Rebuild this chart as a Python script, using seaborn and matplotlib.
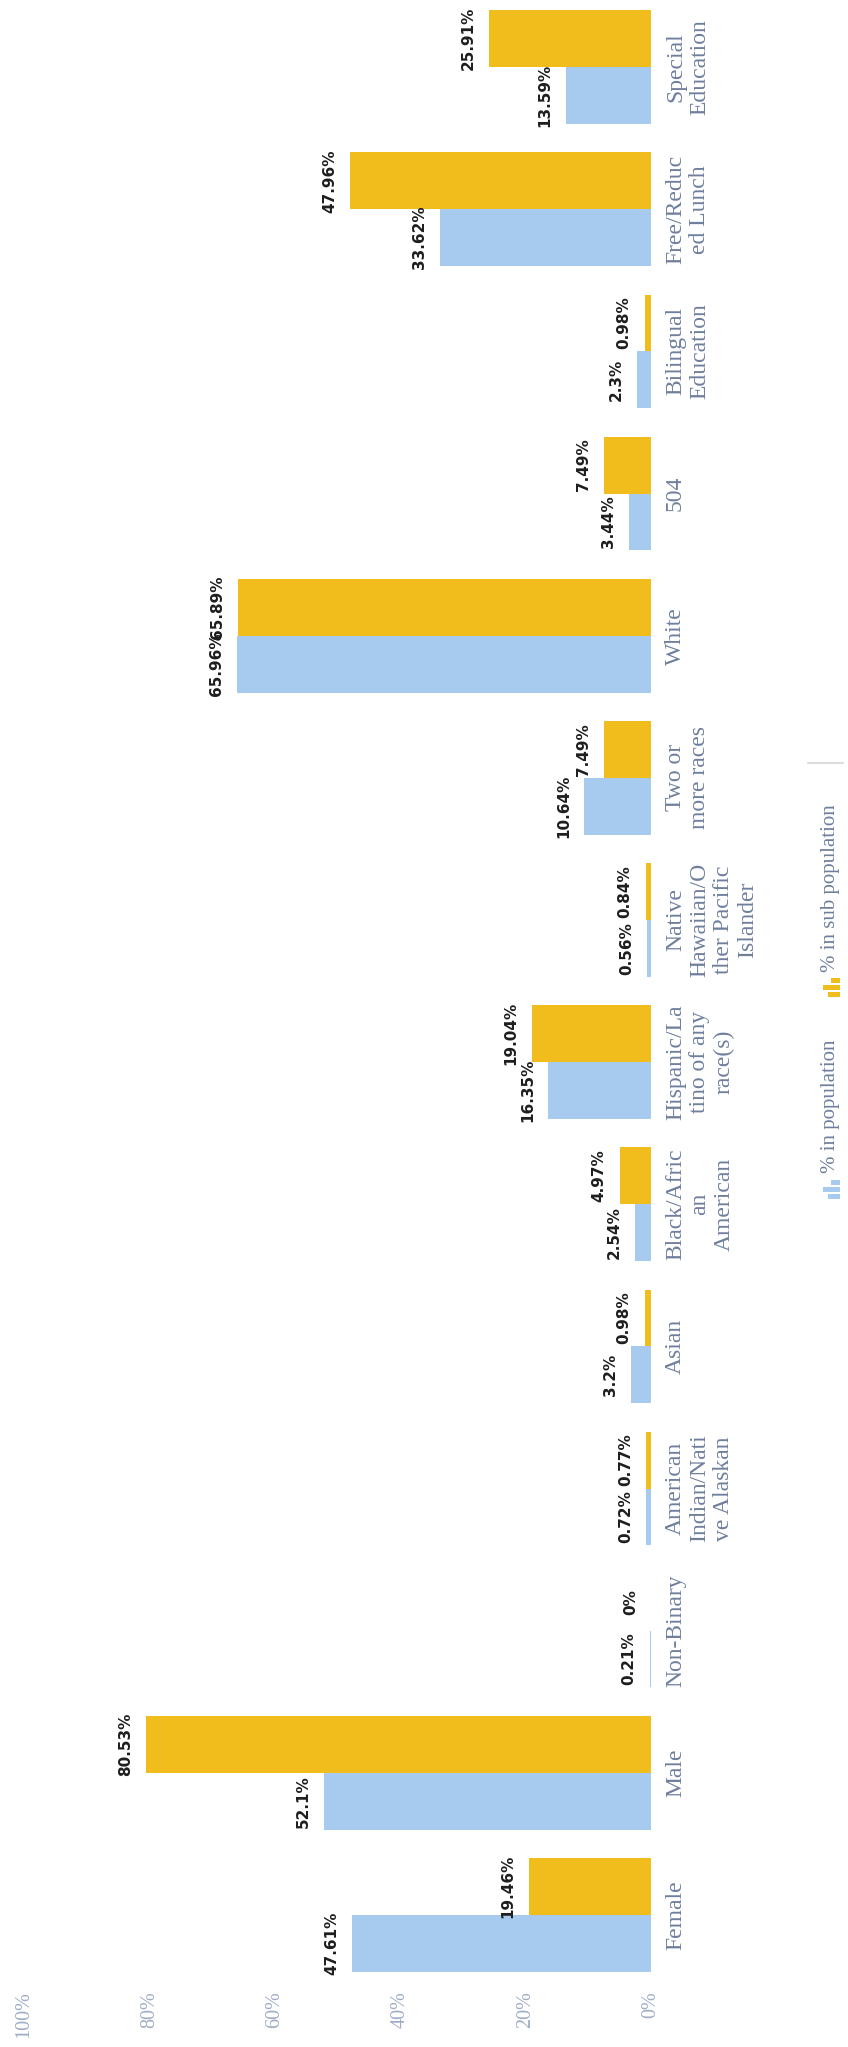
import matplotlib
matplotlib.use("Agg")
import matplotlib.pyplot as plt
from matplotlib.patches import Rectangle
from matplotlib.lines import Line2D
import seaborn as sns
import pandas as pd

# ---- data -------------------------------------------------------------
categories = [
    "Female", "Male", "Non-Binary",
    "American\nIndian/Nati\nve Alaskan", "Asian",
    "Black/Afric\nan\nAmerican", "Hispanic/La\ntino of any\nrace(s)",
    "Native\nHawaiian/O\nther Pacific\nIslander", "Two or\nmore races",
    "White", "504", "Bilingual\nEducation", "Free/Reduc\ned Lunch",
    "Special\nEducation",
]
pct_population = [47.61, 52.1, 0.21, 0.72, 3.2, 2.54, 16.35, 0.56, 10.64,
                  65.96, 3.44, 2.3, 33.62, 13.59]
pct_sub_population = [19.46, 80.53, 0, 0.77, 0.98, 4.97, 19.04, 0.84, 7.49,
                      65.89, 7.49, 0.98, 47.96, 25.91]
series_names = ["% in population", "% in sub population"]
value_ticks = [0, 20, 40, 60, 80, 100]
value_tick_labels = [f"{t}%" for t in value_ticks]

# ---- styling ----------------------------------------------------------
BLUE = "#a7cbee"
YELLOW = "#f0bd1c"
CAT_COLOR = "#6e7e9c"
TICK_COLOR = "#9fadc6"
SERIF = "Liberation Serif"

sns.set_style("white")
plt.rcParams["font.family"] = ["DejaVu Sans"]

W, H = 848, 2047
fig = plt.figure(figsize=(W / 100, H / 100), dpi=100)
fig.patch.set_facecolor("white")


def fx(px):
    return px / W


def fy(py):
    return 1 - py / H


# axes: value 0 at the right, 100 at the left; categories stacked bottom-up
ax = fig.add_axes([fx(24), fy(1986), fx(651) - fx(24), fy(-4) - fy(1986)])

long = pd.DataFrame({
    "category": categories * 2,
    "series": [series_names[0]] * len(categories) + [series_names[1]] * len(categories),
    "value": pct_population + pct_sub_population,
})

hue_order = [series_names[1], series_names[0]]
order = categories[::-1]
sns.barplot(
    data=long, y="category", x="value", hue="series",
    order=order, hue_order=hue_order,
    palette={series_names[0]: BLUE, series_names[1]: YELLOW},
    orient="h", errorbar=None, width=0.8, saturation=1,
    linewidth=0, legend=False, ax=ax,
)

ax.set_xlim(100, 0)
ax.set_xlabel("")
ax.set_ylabel("")
for s in ax.spines.values():
    s.set_visible(False)
ax.grid(False)

# value labels, rotated, sitting just beyond each bar's end
for container in ax.containers:
    for bar in container:
        v = bar.get_width()
        yc = bar.get_y() + bar.get_height() / 2
        ax.annotate(f"{v:g}%", xy=(v, yc), xytext=(-9.5, 0),
                    textcoords="offset points", rotation=90,
                    ha="right", va="center", fontsize=11,
                    fontweight="bold", family="DejaVu Sans", color="#1e1e1e")

# category labels on the right, rotated
ax.yaxis.tick_right()
ax.set_yticks(range(len(order)), labels=order, rotation=90, ha="left",
              va="center", multialignment="center", fontsize=17,
              color=CAT_COLOR, family=SERIF)
ax.tick_params(axis="y", length=0, pad=10)

# percentage scale along the bottom
ax.set_xticks(value_ticks, labels=value_tick_labels, rotation=90,
              ha="center", va="top", fontsize=14.5, color=TICK_COLOR,
              family=SERIF)
ax.tick_params(axis="x", length=0, pad=4)

# ---- legend (rotated, drawn along the right edge) -----------------------
def bar_icon(x_right, y_top, color):
    lengths = [9, 17, 12]
    thick, gap = 5, 2
    y = y_top
    for ln in lengths:
        fig.add_artist(Rectangle((fx(x_right - ln), fy(y + thick)),
                                 fx(ln), fy(0) - fy(thick),
                                 transform=fig.transFigure,
                                 facecolor=color, edgecolor="none"))
        y += thick + gap


bar_icon(840, 1180, BLUE)
fig.text(fx(831), fy(1173), series_names[0], rotation=90, ha="center",
         va="bottom", fontsize=15, color=CAT_COLOR, family=SERIF)
bar_icon(840, 978, YELLOW)
fig.text(fx(831), fy(972), series_names[1], rotation=90, ha="center",
         va="bottom", fontsize=15, color=CAT_COLOR, family=SERIF)
fig.add_artist(Line2D([fx(808), fx(843)], [fy(763), fy(763)],
                      transform=fig.transFigure, color="#dcdcdc", lw=1.5))

fig.savefig("out.png", dpi=100, facecolor="white")
